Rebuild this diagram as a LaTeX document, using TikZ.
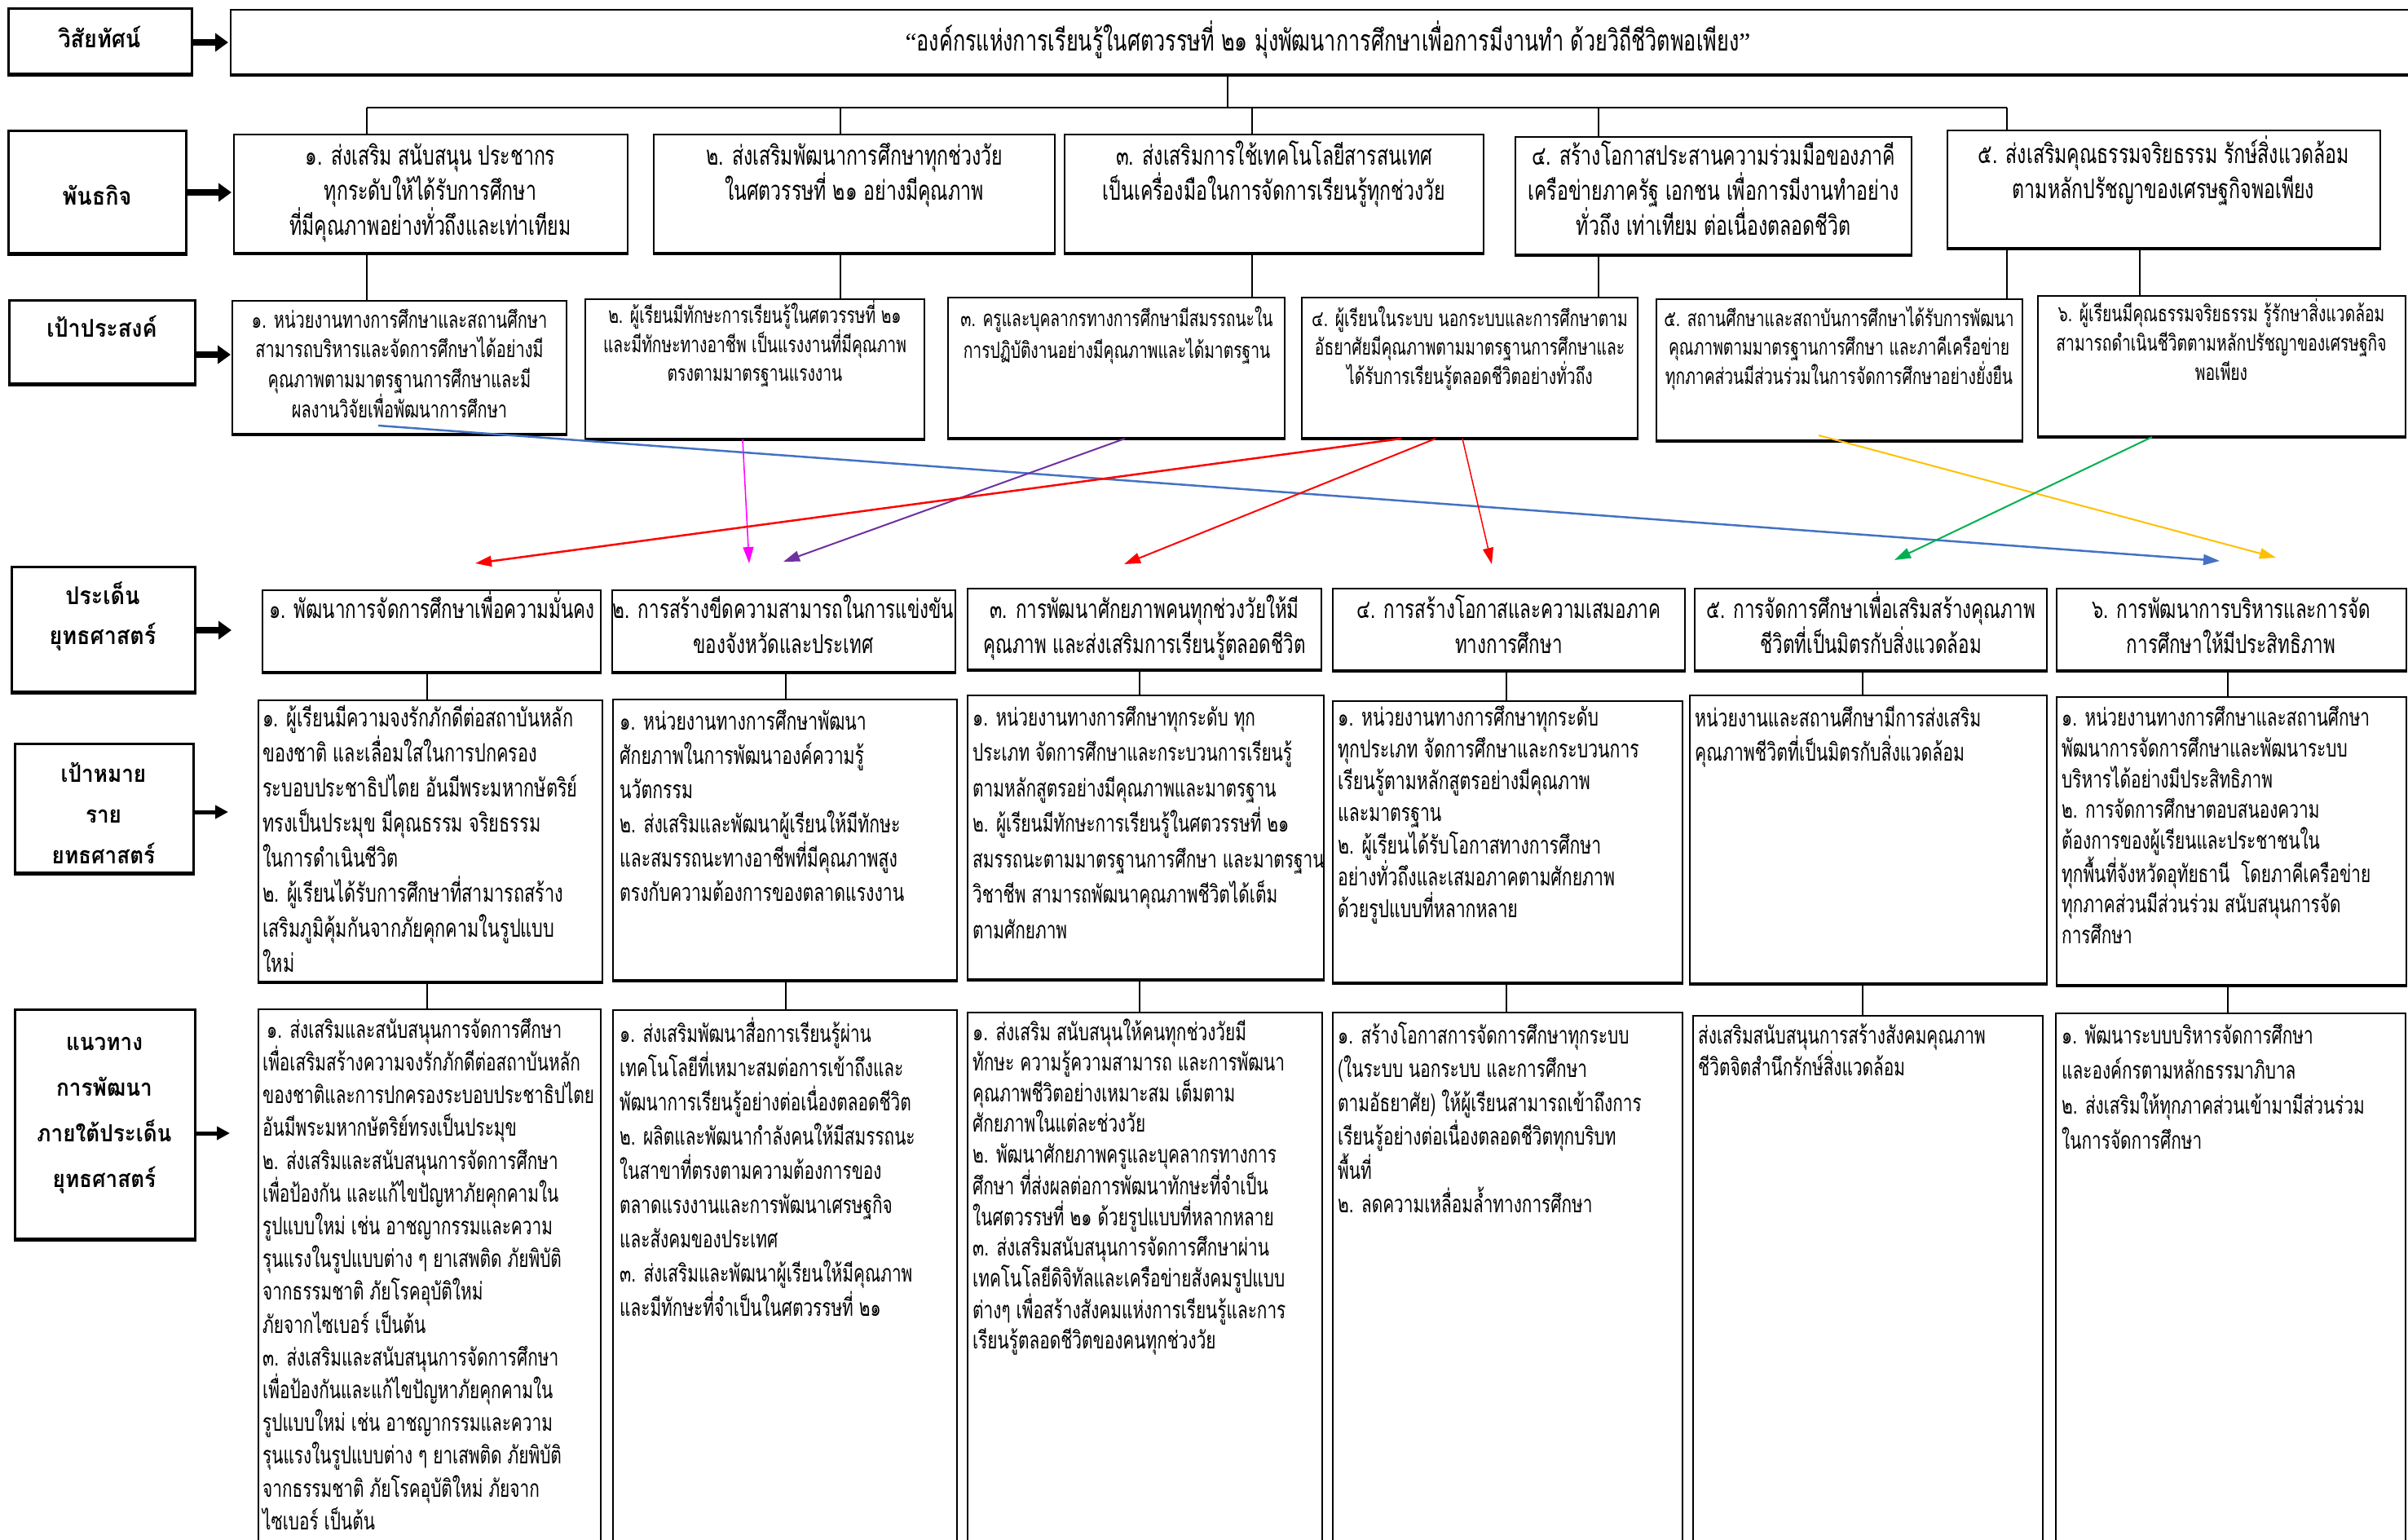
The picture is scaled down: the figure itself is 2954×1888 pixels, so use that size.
\documentclass[tikz,border=0pt]{standalone}
\usepackage{fontspec}
\usetikzlibrary{arrows.meta,fit,calc}
\newfontfamily\thaitext[Script=Thai,FakeStretch=0.7]{Loma}
\newfontfamily\thaibold[Script=Thai,FakeStretch=0.9]{Loma}
\newfontfamily\qfont{Liberation Serif}
\newcommand\fl{\rule{0pt}{40pt}}
\newcommand\fT[2]{\thaitext\fontsize{#1}{#2}\selectfont}
\newcommand\fB[2]{\thaibold\bfseries\fontsize{#1}{#2}\selectfont}
\begin{document}
\begin{tikzpicture}[x=1pt,y=-1pt,
  box/.style={draw, line width=2pt, inner sep=0pt, fill=white},
  lbl/.style={draw, line width=3pt, inner sep=0pt, fill=white},
  tc/.style={anchor=north, inner sep=0pt, yshift=40pt, align=center},
  tl/.style={anchor=north west, inner sep=0pt, yshift=40pt, align=left},
  bar/.style={line width=2pt},
  larr/.style={line width=8pt, -{Triangle[length=16pt,width=22pt]}},
  larrs/.style={line width=5pt, -{Triangle[length=16pt,width=16pt]}},
  carr/.style={line width=2pt, -{Triangle[length=20pt,width=13pt]}}]
\useasboundingbox (0,0) rectangle (2954,1888);
\fill[white] (0,0) rectangle (2954,1888);

% ---------- left labels
\node[lbl, fit={(10,10) (235,90)}] (l1) {};
\node[tc, font=\fB{30}{50}] (l1t) at (122,58) {\fl วิสัยทัศน์};
\node[lbl, fit={(10,160) (228,310)}] (l2) {};
\node[tc, font=\fB{30}{50}] (l2t) at (119,251) {\fl พันธกิจ};
\node[lbl, fit={(11,368) (239,470)}] (l3) {};
\node[tc, font=\fB{30}{50}] (l3t) at (125,413) {\fl เป้าประสงค์};
\node[lbl, fit={(14,695) (239,848)}] (l4) {};
\node[tc, font=\fB{30}{49}] (l4t) at (126,741) {\fl ประเด็น\\ยุทธศาสตร์};
\node[lbl, fit={(18,912) (237,1070)}] (l5) {};
\node[tc, font=\fB{29}{50}] (l5t) at (127,959) {\fl เป้าหมาย\\ราย\\ยทธศาสตร์};
\node[lbl, fit={(18,1238) (239,1519)}] (l6) {};
\node[tc, font=\fB{29}{56}] (l6t) at (128,1288) {\fl แนวทาง\\การพัฒนา\\ภายใต้ประเด็น\\ยุทธศาสตร์};

% ---------- content boxes
\node[box, fit={(283,12) (2990,91)}] (vis) {};
\node[box, fit={(287,165) (770,310)}] (m1) {};
\node[box, fit={(802,165) (1294,310)}] (m2) {};
\node[box, fit={(1306,165) (1820,310)}] (m3) {};
\node[box, fit={(1859,168) (2345,312)}] (m4) {};
\node[box, fit={(2389,160) (2920,304)}] (m5) {};
\node[box, fit={(285,369) (695,532)}] (g1) {};
\node[box, fit={(718,367) (1134,538)}] (g2) {};
\node[box, fit={(1163,365) (1576,537)}] (g3) {};
\node[box, fit={(1597,365) (2009,537)}] (g4) {};
\node[box, fit={(2032,367) (2481,540)}] (g5) {};
\node[box, fit={(2500,363) (2951,535)}] (g6) {};
\node[box, fit={(322,724) (737,824)}] (s1) {};
\node[box, fit={(751,724) (1172,824)}] (s2) {};
\node[box, fit={(1187,722) (1621,821)}] (s3) {};
\node[box, fit={(1635,722) (2067,822)}] (s4) {};
\node[box, fit={(2079,722) (2511,822)}] (s5) {};
\node[box, fit={(2523,722) (2952,822)}] (s6) {};
\node[box, fit={(317,859) (739,1204)}] (t1) {};
\node[box, fit={(752,858) (1174,1202)}] (t2) {};
\node[box, fit={(1187,853) (1624,1201)}] (t3) {};
\node[box, fit={(1635,860) (2064,1205)}] (t4) {};
\node[box, fit={(2073,853) (2511,1206)}] (t5) {};
\node[box, fit={(2523,855) (2952,1208)}] (t6) {};
\node[box, fit={(317,1238) (737,1900)}] (n1) {};
\node[box, fit={(752,1239) (1174,1900)}] (n2) {};
\node[box, fit={(1187,1242) (1622,1900)}] (n3) {};
\node[box, fit={(1635,1242) (2064,1900)}] (n4) {};
\node[box, fit={(2077,1246) (2506,1900)}] (n5) {};
\node[box, fit={(2522,1243) (2951,1900)}] (n6) {};
\foreach \b in {l1,l2,l3,l4,l5,l6,vis,m1,m2,m3,m4,m5,g1,g2,g3,g4,g5,g6,s1,s2,s3,s4,s5,s6,t1,t2,t3,t4,t5,t6}
  \draw[line width=4.5pt] (\b.south west) -- (\b.south east);

% ---------- tree connectors
\coordinate (bus) at (1506,132);
\coordinate (p1) at (450,132);
\coordinate (p2) at (1031,132);
\coordinate (p3) at (1536,132);
\coordinate (p4) at (1961,132);
\coordinate (p5) at (2462,132);
\coordinate (p6) at (2625,132);
\draw[bar] (vis.south -| bus) -- (bus);
\draw[bar] (p1) -- (p5);
\foreach \i in {1,...,5} \draw[bar] (p\i) -- (m\i.north -| p\i);
\foreach \i in {1,...,5} \draw[bar] (m\i.south -| p\i) -- (g\i.north -| p\i);
\draw[bar] (m5.south -| p6) -- (g6.north -| p6);
\coordinate (q1) at (524,0);
\coordinate (q2) at (964,0);
\coordinate (q3) at (1398,0);
\coordinate (q4) at (1848,0);
\coordinate (q5) at (2285,0);
\coordinate (q6) at (2733,0);
\foreach \i in {1,...,6} {
  \draw[bar] (s\i.south -| q\i) -- (t\i.north -| q\i);
  \draw[bar] (t\i.south -| q\i) -- (n\i.north -| q\i);
}

% ---------- label arrows
\coordinate (a1) at (0,52);
\coordinate (a2) at (0,236);
\coordinate (a3) at (0,435);
\coordinate (a4) at (0,773);
\coordinate (a5) at (0,996);
\coordinate (a6) at (0,1390);
\draw[larr, shorten >=2pt] (l1.east |- a1) -- (vis.west |- a1);
\draw[larr, shorten >=2pt] (l2.east |- a2) -- (m1.west |- a2);
\draw[larr, shorten >=1pt] (l3.east |- a3) -- (g1.west |- a3);
\draw[larr, shorten >=37pt] (l4.east |- a4) -- (s1.west |- a4);
\draw[larrs, shorten >=36pt] (l5.east |- a5) -- (t1.west |- a5);
\draw[larrs, shorten >=34pt] (l6.east |- a6) -- (n1.west |- a6);

% ---------- texts
\node[tc, font=\fT{36}{40}] (vist) at (1629,62) {\fl{\qfont\fontsize{31.5}{40}\selectfont “}องค์กรแห่งการเรียนรู้ในศตวรรษที่ ๒๑ มุ่งพัฒนาการศึกษาเพื่อการมีงานทำ ด้วยวิถีชีวิตพอเพียง{\qfont\fontsize{31.5}{40}\selectfont ”}};

\node[tc, font=\fT{33}{43}] (m1t) at (528,202) {\fl ๑. ส่งเสริม สนับสนุน ประชากร\\ทุกระดับให้ได้รับการศึกษา\\ที่มีคุณภาพอย่างทั่วถึงและเท่าเทียม};
\node[tc, font=\fT{33}{43}] (m2t) at (1048,202) {\fl ๒. ส่งเสริมพัฒนาการศึกษาทุกช่วงวัย\\ในศตวรรษที่ ๒๑ อย่างมีคุณภาพ};
\node[tc, font=\fT{33}{43}] (m3t) at (1563,202) {\fl ๓. ส่งเสริมการใช้เทคโนโลยีสารสนเทศ\\เป็นเครื่องมือในการจัดการเรียนรู้ทุกช่วงวัย};
\node[tc, font=\fT{33}{43}] (m4t) at (2102,202) {\fl ๔. สร้างโอกาสประสานความร่วมมือของภาคี\\เครือข่ายภาครัฐ เอกชน เพื่อการมีงานทำอย่าง\\ทั่วถึง เท่าเทียม ต่อเนื่องตลอดชีวิต};
\node[tc, font=\fT{33}{43}] (m5t) at (2654,200) {\fl ๕. ส่งเสริมคุณธรรมจริยธรรม รักษ์สิ่งแวดล้อม\\ตามหลักปรัชญาของเศรษฐกิจพอเพียง};

\node[tc, font=\fT{28.5}{36.5}] (g1t) at (490,402) {\fl ๑. หน่วยงานทางการศึกษาและสถานศึกษา\\สามารถบริหารและจัดการศึกษาได้อย่างมี\\คุณภาพตามมาตรฐานการศึกษาและมี\\ผลงานวิจัยเพื่อพัฒนาการศึกษา};
\node[tc, font=\fT{27.5}{35}] (g2t) at (926,396) {\fl ๒. ผู้เรียนมีทักษะการเรียนรู้ในศตวรรษที่ ๒๑\\และมีทักษะทางอาชีพ เป็นแรงงานที่มีคุณภาพ\\ตรงตามมาตรฐานแรงงาน};
\node[tc, font=\fT{27.5}{39}] (g3t) at (1370,400) {\fl ๓. ครูและบุคลากรทางการศึกษามีสมรรถนะใน\\การปฏิบัติงานอย่างมีคุณภาพและได้มาตรฐาน};
\node[tc, font=\fT{27.5}{35}] (g4t) at (1803,400) {\fl ๔. ผู้เรียนในระบบ นอกระบบและการศึกษาตาม\\อัธยาศัยมีคุณภาพตามมาตรฐานการศึกษาและ\\ได้รับการเรียนรู้ตลอดชีวิตอย่างทั่วถึง};
\node[tc, font=\fT{27.5}{35.5}] (g5t) at (2256,400) {\fl ๕. สถานศึกษาและสถาบันการศึกษาได้รับการพัฒนา\\คุณภาพตามมาตรฐานการศึกษา และภาคีเครือข่าย\\ทุกภาคส่วนมีส่วนร่วมในการจัดการศึกษาอย่างยั่งยืน};
\node[tc, font=\fT{27.5}{36}] (g6t) at (2725,394) {\fl ๖. ผู้เรียนมีคุณธรรมจริยธรรม รู้รักษาสิ่งแวดล้อม\\สามารถดำเนินชีวิตตามหลักปรัชญาของเศรษฐกิจ\\พอเพียง};

\node[tc, font=\fT{32}{43}] (s1t) at (530,758) {\fl ๑. พัฒนาการจัดการศึกษาเพื่อความมั่นคง};
\node[tc, font=\fT{32}{43}] (s2t) at (961,758) {\fl ๒. การสร้างขีดความสามารถในการแข่งขัน\\ของจังหวัดและประเทศ};
\node[tc, font=\fT{32}{43}] (s3t) at (1404,758) {\fl ๓. การพัฒนาศักยภาพคนทุกช่วงวัยให้มี\\คุณภาพ และส่งเสริมการเรียนรู้ตลอดชีวิต};
\node[tc, font=\fT{32}{43}] (s4t) at (1851,758) {\fl ๔. การสร้างโอกาสและความเสมอภาค\\ทางการศึกษา};
\node[tc, font=\fT{32}{43}] (s5t) at (2295,758) {\fl ๕. การจัดการศึกษาเพื่อเสริมสร้างคุณภาพ\\ชีวิตที่เป็นมิตรกับสิ่งแวดล้อม};
\node[tc, font=\fT{32}{43}] (s6t) at (2737,758) {\fl ๖. การพัฒนาการบริหารและการจัด\\การศึกษาให้มีประสิทธิภาพ};

\node[tl, font=\fT{31}{43}] (t1t) at (322,891) {\fl ๑. ผู้เรียนมีความจงรักภักดีต่อสถาบันหลัก\\ของชาติ และเลื่อมใสในการปกครอง\\ระบอบประชาธิปไตย อันมีพระมหากษัตริย์\\ทรงเป็นประมุข มีคุณธรรม จริยธรรม\\ในการดำเนินชีวิต\\๒. ผู้เรียนได้รับการศึกษาที่สามารถสร้าง\\เสริมภูมิคุ้มกันจากภัยคุกคามในรูปแบบ\\ใหม่};
\node[tl, font=\fT{30.3}{42}] (t2t) at (760,895) {\fl ๑. หน่วยงานทางการศึกษาพัฒนา\\ศักยภาพในการพัฒนาองค์ความรู้\\นวัตกรรม\\๒. ส่งเสริมและพัฒนาผู้เรียนให้มีทักษะ\\และสมรรถนะทางอาชีพที่มีคุณภาพสูง\\ตรงกับความต้องการของตลาดแรงงาน};
\node[tl, font=\fT{29.7}{43.5}] (t3t) at (1193,890) {\fl ๑. หน่วยงานทางการศึกษาทุกระดับ ทุก\\ประเภท จัดการศึกษาและกระบวนการเรียนรู้\\ตามหลักสูตรอย่างมีคุณภาพและมาตรฐาน\\๒. ผู้เรียนมีทักษะการเรียนรู้ในศตวรรษที่ ๒๑\\สมรรถนะตามมาตรฐานการศึกษา และมาตรฐาน\\วิชาชีพ สามารถพัฒนาคุณภาพชีวิตได้เต็ม\\ตามศักยภาพ};
\node[tl, font=\fT{30.3}{39.2}] (t4t) at (1641,890) {\fl ๑. หน่วยงานทางการศึกษาทุกระดับ\\ทุกประเภท จัดการศึกษาและกระบวนการ\\เรียนรู้ตามหลักสูตรอย่างมีคุณภาพ\\และมาตรฐาน\\๒. ผู้เรียนได้รับโอกาสทางการศึกษา\\อย่างทั่วถึงและเสมอภาคตามศักยภาพ\\ด้วยรูปแบบที่หลากหลาย};
\node[tl, font=\fT{30.3}{42}] (t5t) at (2079,891) {\fl หน่วยงานและสถานศึกษามีการส่งเสริม\\คุณภาพชีวิตที่เป็นมิตรกับสิ่งแวดล้อม};
\node[tl, font=\fT{29.7}{37.9}] (t6t) at (2529,890) {\fl ๑. หน่วยงานทางการศึกษาและสถานศึกษา\\พัฒนาการจัดการศึกษาและพัฒนาระบบ\\บริหารได้อย่างมีประสิทธิภาพ\\๒. การจัดการศึกษาตอบสนองความ\\ต้องการของผู้เรียนและประชาชนใน\\ทุกพื้นที่จังหวัดอุทัยธานี\ \ โดยภาคีเครือข่าย\\ทุกภาคส่วนมีส่วนร่วม สนับสนุนการจัด\\การศึกษา};

\node[tl, font=\fT{29.7}{40.2}] (n1t) at (322,1273) {\fl\hspace{5pt}๑. ส่งเสริมและสนับสนุนการจัดการศึกษา\\เพื่อเสริมสร้างความจงรักภักดีต่อสถาบันหลัก\\ของชาติและการปกครองระบอบประชาธิปไตย\\อันมีพระมหากษัตริย์ทรงเป็นประมุข\\๒. ส่งเสริมและสนับสนุนการจัดการศึกษา\\เพื่อป้องกัน และแก้ไขปัญหาภัยคุกคามใน\\รูปแบบใหม่ เช่น อาชญากรรมและความ\\รุนแรงในรูปแบบต่าง ๆ ยาเสพติด ภัยพิบัติ\\จากธรรมชาติ ภัยโรคอุบัติใหม่\\ภัยจากไซเบอร์ เป็นต้น\\๓. ส่งเสริมและสนับสนุนการจัดการศึกษา\\เพื่อป้องกันและแก้ไขปัญหาภัยคุกคามใน\\รูปแบบใหม่ เช่น อาชญากรรมและความ\\รุนแรงในรูปแบบต่าง ๆ ยาเสพติด ภัยพิบัติ\\จากธรรมชาติ ภัยโรคอุบัติใหม่ ภัยจาก\\ไซเบอร์ เป็นต้น};
\node[tl, font=\fT{29.7}{42}] (n2t) at (760,1278) {\fl ๑. ส่งเสริมพัฒนาสื่อการเรียนรู้ผ่าน\\เทคโนโลยีที่เหมาะสมต่อการเข้าถึงและ\\พัฒนาการเรียนรู้อย่างต่อเนื่องตลอดชีวิต\\๒. ผลิตและพัฒนากำลังคนให้มีสมรรถนะ\\ในสาขาที่ตรงตามความต้องการของ\\ตลาดแรงงานและการพัฒนาเศรษฐกิจ\\และสังคมของประเทศ\\๓. ส่งเสริมและพัฒนาผู้เรียนให้มีคุณภาพ\\และมีทักษะที่จำเป็นในศตวรรษที่ ๒๑};
\node[tl, font=\fT{29.7}{37.5}] (n3t) at (1193,1276) {\fl ๑. ส่งเสริม สนับสนุนให้คนทุกช่วงวัยมี\\ทักษะ ความรู้ความสามารถ และการพัฒนา\\คุณภาพชีวิตอย่างเหมาะสม เต็มตาม\\ศักยภาพในแต่ละช่วงวัย\\๒. พัฒนาศักยภาพครูและบุคลากรทางการ\\ศึกษา ที่ส่งผลต่อการพัฒนาทักษะที่จำเป็น\\ในศตวรรษที่ ๒๑ ด้วยรูปแบบที่หลากหลาย\\๓. ส่งเสริมสนับสนุนการจัดการศึกษาผ่าน\\เทคโนโลยีดิจิทัลและเครือข่ายสังคมรูปแบบ\\ต่างๆ เพื่อสร้างสังคมแห่งการเรียนรู้และการ\\เรียนรู้ตลอดชีวิตของคนทุกช่วงวัย};
\node[tl, font=\fT{29.7}{41.5}] (n4t) at (1641,1280) {\fl ๑. สร้างโอกาสการจัดการศึกษาทุกระบบ\\(ในระบบ นอกระบบ และการศึกษา\\ตามอัธยาศัย) ให้ผู้เรียนสามารถเข้าถึงการ\\เรียนรู้อย่างต่อเนื่องตลอดชีวิตทุกบริบท\\พื้นที่\\๒. ลดความเหลื่อมล้ำทางการศึกษา};
\node[tl, font=\fT{29.7}{38}] (n5t) at (2083,1280) {\fl ส่งเสริมสนับสนุนการสร้างสังคมคุณภาพ\\ชีวิตจิตสำนึกรักษ์สิ่งแวดล้อม};
\node[tl, font=\fT{29.7}{43}] (n6t) at (2529,1280) {\fl ๑. พัฒนาระบบบริหารจัดการศึกษา\\และองค์กรตามหลักธรรมาภิบาล\\๒. ส่งเสริมให้ทุกภาคส่วนเข้ามามีส่วนร่วม\\ในการจัดการศึกษา};

% ---------- coloured cross links
\draw[carr, color={rgb,255:red,68;green,114;blue,196}, line width=2.5pt] ($(g1.south west)+(180,-11)$) -- ($(s6.north west)+(201,-33)$);
\draw[carr, color={rgb,255:red,255;green,0;blue,255}, line width=1.5pt] ($(g2.south west)+(194,0)$) -- ($(s2.north west)+(169,-32)$);
\draw[carr, color={rgb,255:red,112;green,48;blue,160}] ($(g3.south west)+(218,0)$) -- ($(s2.north west)+(211,-34)$);
\draw[carr, color=red, line width=2.5pt] ($(g4.south west)+(123,0)$) -- ($(s1.north west)+(262,-32)$);
\draw[carr, color=red] ($(g4.south west)+(165,0)$) -- ($(s3.north west)+(193,-29)$);
\draw[carr, color=red, line width=1.5pt] ($(g4.south west)+(198,0)$) -- ($(s4.north west)+(196,-29)$);
\draw[carr, color={rgb,255:red,255;green,192;blue,0}] ($(g5.south west)+(200,-7)$) -- ($(s6.north west)+(270,-37)$);
\draw[carr, color={rgb,255:red,0;green,176;blue,80}] ($(g6.south west)+(141,0)$) -- ($(s5.north west)+(246,-34)$);
\end{tikzpicture}
\end{document}
